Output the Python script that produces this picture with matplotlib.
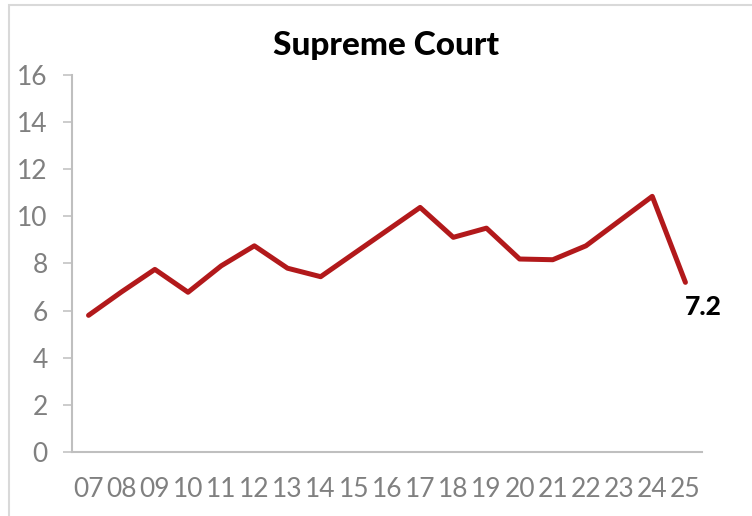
import matplotlib.pyplot as plt
from matplotlib.patches import Rectangle

# data
years = ["07", "08", "09", "10", "11", "12", "13", "14", "15", "16",
         "17", "18", "19", "20", "21", "22", "23", "24", "25"]
values = [5.8, 6.8, 7.75, 6.78, 7.9, 8.75, 7.8, 7.44, 8.42, 9.4,
          10.38, 9.11, 9.5, 8.19, 8.16, 8.75, 9.8, 10.85, 7.2]
last_label = "7.2"
title = "Supreme Court"

plt.rcParams['font.family'] = ['Lato', 'DejaVu Sans']

fig = plt.figure(figsize=(7.52, 5.16), dpi=100)
ax = fig.add_axes([0.0957, 0.124, 0.8378, 0.7307])

# light grey frame at top and left (chart area border, cropped on right/bottom)
fig.patches.append(Rectangle((9 / 752, -0.2), 1.2, 1.2 - 5 / 516,
                             transform=fig.transFigure, fill=False,
                             edgecolor="#d9d9d9", linewidth=1.5))

x = list(range(len(years)))
ax.plot(x, values, color="#b2191b", linewidth=3.6,
        solid_joinstyle="round", solid_capstyle="round")

ax.annotate(last_label, (x[-1], values[-1]), xytext=(13, -18),
            textcoords="offset points", ha="center", va="center",
            fontsize=19, fontweight="black", color="black")

ax.set_xlim(-0.5, len(years) - 0.5)
ax.set_ylim(0, 16)
ax.set_yticks(range(0, 17, 2))
ax.set_xticks(x)
ax.set_xticklabels(years)

for side in ["top", "right"]:
    ax.spines[side].set_visible(False)
for side in ["left", "bottom"]:
    ax.spines[side].set_color("#bfbfbf")
    ax.spines[side].set_linewidth(1.5)

ax.tick_params(axis="y", length=6.5, width=1.1, color="#bfbfbf",
               labelsize=19, labelcolor="#808080", pad=11)
ax.tick_params(axis="x", length=0, labelsize=19, labelcolor="#808080", pad=18)

fig.text(386 / 752, 1 - 45 / 516, title, ha="center", va="center",
         fontsize=24, fontweight="black", color="black")

fig.savefig("out.png", dpi=100)
